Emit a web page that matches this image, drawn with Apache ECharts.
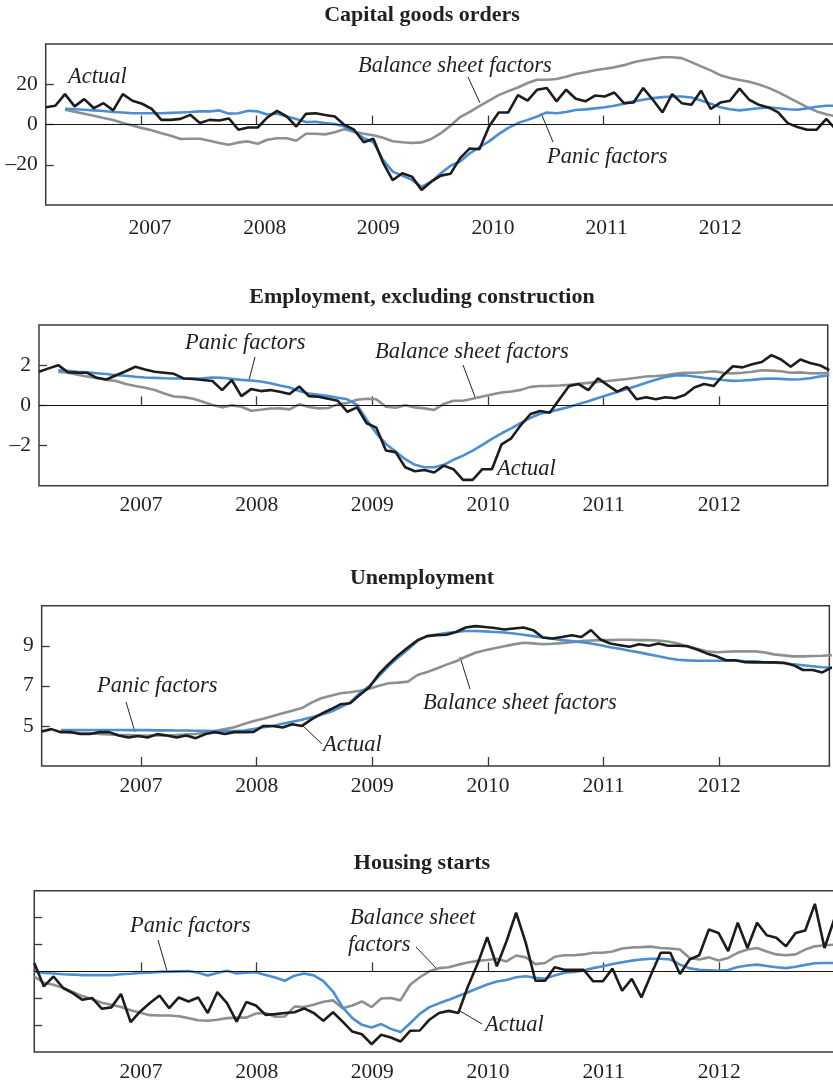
<!DOCTYPE html>
<html>
<head>
<meta charset="utf-8">
<script src="https://cdn.jsdelivr.net/npm/echarts@6.0.0/dist/echarts.min.js"></script>
<style>
  html, body { margin: 0; padding: 0; background: #fff; }
  #chart { width: 833px; height: 1085px; }
</style>
</head>
<body>
<div id="chart"></div>
<script>
// tick labels and titles
const years = [2007, 2008, 2009, 2010, 2011, 2012];
const titles = ["Capital goods orders", "Employment, excluding construction", "Unemployment", "Housing starts"];

// monthly values, first value sits on the left edge of each panel
const capActual = [8.6, 9.3, 15.1, 9, 12.6, 8.1, 10.6, 7, 15.1, 11.8,
  10.3, 7.8, 2.3, 2.3, 2.8, 4.8, 0.7, 2.3, 2, 3,
  -2.6, -1.5, -1.5, 3.5, 6.8, 4, -1, 5.3, 5.6, 4.7,
  4, -0.2, -2.6, -8.8, -7.1, -18.9, -27.7, -24.2, -25.9, -32.5,
  -28.4, -25.4, -24.5, -16.7, -11.9, -12.3, -1, 6, 6, 14.6,
  11.9, 17.3, 18.1, 11.5, 17.3, 12.8, 11.5, 14.4, 13.9, 15.9,
  10.6, 10.9, 18.1, 12.3, 6, 15.1, 10.6, 9.8, 16.8, 7.7,
  10.9, 11.8, 17.8, 12.3, 9.8, 8.5, 6, 0.7, -1.3, -2.6,
  -2.6, 2.8, -2.6];
const capPanic = [null, null, 7.8, 7.6, 7.3, 7.0, 6.7, 6.2, 6.0, 5.6,
  5.6, 5.6, 5.6, 5.8, 6.0, 6.2, 6.5, 6.5, 7.0, 5.4,
  5.6, 6.8, 6.5, 5.0, 5.5, 4.0, 2.7, 1.2, 1.4, 0.7,
  0.2, -1.0, -3.5, -6.8, -8.8, -17.6, -23.4, -25.4, -27.5, -31,
  -28.4, -24.2, -20.5, -18.4, -14.3, -11.3, -8.4, -4.8, -1.7, 0.7,
  2.3, 4.0, 6.0, 5.6, 6.2, 7.2, 7.5, 8.0, 8.6, 9.3,
  10.3, 11.5, 12.3, 13.1, 13.6, 13.9, 13.9, 13.4, 11.9, 10.3,
  8.6, 7.6, 7.0, 7.6, 8.1, 8.5, 8.1, 7.6, 7.3, 8.0,
  8.8, 9.3, 9.3];
const capBalance = [null, null, 7.3, 6.3, 5.3, 4.3, 3.2, 2.2, 0.7, -0.5,
  -1.8, -2.9, -4.3, -5.6, -7.2, -7.1, -7.1, -8.1, -9.2, -10.1,
  -8.9, -8.4, -9.6, -7.6, -6.8, -6.8, -8.1, -4.6, -4.6, -4.9,
  -3.9, -2.3, -3.6, -4.6, -5.3, -6.6, -8.3, -8.8, -9.2, -8.9,
  -7.2, -4.3, -0.6, 3.7, 6.3, 9.1, 11.9, 14.6, 16.6, 18.4,
  20.6, 22.2, 22.2, 22.6, 23.7, 25.1, 26.0, 27.0, 27.7, 28.4,
  29.5, 30.9, 31.9, 32.7, 33.4, 33.4, 33.0, 31.0, 28.9, 26.9,
  24.5, 23.1, 22.1, 21.2, 19.9, 18.2, 16.1, 13.6, 11.1, 8.6,
  6.5, 5.1, 4.0];

const empActual = [1.67, 1.84, 2.0, 1.65, 1.63, 1.62, 1.37, 1.29, 1.5, 1.7,
  1.92, 1.79, 1.67, 1.62, 1.57, 1.34, 1.31, 1.26, 1.21, 0.76,
  1.26, 0.46, 0.81, 0.71, 0.76, 0.68, 0.56, 0.94, 0.46, 0.43,
  0.33, 0.23, -0.32, -0.1, -0.89, -1.11, -2.25, -2.33, -3.08, -3.28,
  -3.22, -3.34, -3.0, -3.18, -3.71, -3.71, -3.18, -3.18, -1.94, -1.64,
  -0.98, -0.43, -0.28, -0.37, 0.3, 0.96, 1.06, 0.76, 1.34, 1.01,
  0.68, 0.92, 0.3, 0.4, 0.3, 0.4, 0.35, 0.51, 0.89, 1.06,
  0.96, 1.5, 1.95, 1.89, 2.05, 2.16, 2.5, 2.28, 1.92, 2.28,
  2.11, 2.0, 1.75];
const empPanic = [null, null, 1.75, 1.72, 1.67, 1.64, 1.6, 1.56, 1.5, 1.47,
  1.42, 1.39, 1.37, 1.35, 1.34, 1.34, 1.34, 1.35, 1.39, 1.37,
  1.32, 1.27, 1.24, 1.19, 1.1, 0.99, 0.89, 0.71, 0.59, 0.53,
  0.46, 0.38, 0.3, 0.02, -0.72, -1.39, -1.92, -2.3, -2.68, -2.96,
  -3.08, -3.08, -2.96, -2.71, -2.5, -2.25, -1.97, -1.67, -1.39, -1.15,
  -0.87, -0.62, -0.42, -0.32, -0.2, -0.08, 0.07, 0.2, 0.37, 0.51,
  0.66, 0.81, 0.96, 1.12, 1.27, 1.41, 1.49, 1.5, 1.44, 1.37,
  1.32, 1.26, 1.22, 1.24, 1.27, 1.32, 1.34, 1.32, 1.29, 1.3,
  1.35, 1.44, 1.5];
const empBalance = [null, null, 1.67, 1.62, 1.52, 1.44, 1.35, 1.27, 1.21, 1.06,
  0.96, 0.88, 0.76, 0.59, 0.44, 0.41, 0.33, 0.18, 0.02, -0.1,
  0, -0.07, -0.27, -0.22, -0.16, -0.15, -0.2, 0.05, -0.08, -0.15,
  -0.13, 0.05, 0.12, 0.28, 0.33, 0.3, -0.07, -0.12, 0, -0.1,
  -0.15, -0.23, 0.07, 0.23, 0.23, 0.33, 0.44, 0.54, 0.64, 0.69,
  0.77, 0.92, 0.96, 0.97, 0.99, 1.02, 1.07, 1.12, 1.17, 1.21,
  1.26, 1.31, 1.37, 1.44, 1.46, 1.5, 1.57, 1.62, 1.62, 1.65,
  1.7, 1.62, 1.59, 1.62, 1.67, 1.75, 1.73, 1.7, 1.62, 1.64,
  1.6, 1.59, 1.62];

const unActual = [4.72, 4.84, 4.69, 4.69, 4.6, 4.6, 4.69, 4.69, 4.52, 4.42,
  4.5, 4.42, 4.59, 4.52, 4.42, 4.52, 4.39, 4.6, 4.69, 4.6,
  4.69, 4.69, 4.7, 5.0, 5.0, 4.92, 5.08, 5.0, 5.33, 5.6,
  5.83, 6.08, 6.13, 6.54, 6.93, 7.59, 8.08, 8.53, 8.91, 9.28,
  9.48, 9.53, 9.55, 9.69, 9.91, 9.98, 9.94, 9.89, 9.81, 9.86,
  9.91, 9.78, 9.41, 9.36, 9.44, 9.53, 9.44, 9.78, 9.31, 9.11,
  9.03, 8.95, 9.08, 9.0, 9.11, 9.0, 9.0, 8.98, 8.81, 8.62,
  8.48, 8.28, 8.28, 8.18, 8.17, 8.17, 8.17, 8.15, 8.03, 7.79,
  7.79, 7.67, 7.92];
const unPanic = [null, null, 4.8, 4.8, 4.8, 4.8, 4.8, 4.8, 4.8, 4.79,
  4.79, 4.79, 4.78, 4.78, 4.77, 4.77, 4.76, 4.76, 4.75, 4.74,
  4.74, 4.77, 4.84, 4.93, 5.0, 5.11, 5.21, 5.31, 5.43, 5.56,
  5.71, 5.93, 6.16, 6.63, 6.99, 7.49, 7.99, 8.42, 8.81, 9.24,
  9.49, 9.56, 9.64, 9.69, 9.74, 9.74, 9.72, 9.69, 9.66, 9.61,
  9.55, 9.48, 9.41, 9.35, 9.28, 9.23, 9.18, 9.11, 9.03, 8.93,
  8.85, 8.75, 8.67, 8.57, 8.48, 8.38, 8.3, 8.27, 8.25, 8.25,
  8.25, 8.25, 8.25, 8.23, 8.22, 8.18, 8.15, 8.13, 8.08, 8.03,
  7.98, 7.93, 7.9];
const unBalance = [null, null, 4.72, 4.69, 4.65, 4.64, 4.6, 4.57, 4.55, 4.54,
  4.52, 4.52, 4.52, 4.52, 4.54, 4.57, 4.6, 4.67, 4.74, 4.84,
  4.93, 5.1, 5.25, 5.36, 5.49, 5.63, 5.76, 5.89, 6.16, 6.38,
  6.51, 6.63, 6.68, 6.76, 6.86, 7.01, 7.13, 7.16, 7.21, 7.54,
  7.69, 7.87, 8.06, 8.23, 8.45, 8.65, 8.78, 8.88, 8.98, 9.07,
  9.15, 9.12, 9.08, 9.1, 9.13, 9.18, 9.23, 9.26, 9.28, 9.28,
  9.3, 9.3, 9.28, 9.28, 9.26, 9.21, 9.11, 8.98, 8.85, 8.73,
  8.68, 8.7, 8.72, 8.73, 8.72, 8.67, 8.57, 8.52, 8.47, 8.47,
  8.49, 8.5, 8.53];

const houActual = [0.31, -0.56, -0.19, -0.62, -0.81, -1.06, -0.99, -1.39, -1.34, -0.84,
  -1.89, -1.49, -1.18, -0.9, -1.37, -0.97, -1.12, -0.97, -1.55, -0.77,
  -1.18, -1.87, -1.14, -1.27, -1.62, -1.59, -1.55, -1.52, -1.38, -1.55,
  -1.84, -1.52, -1.87, -2.24, -2.34, -2.71, -2.36, -2.46, -2.61, -2.21,
  -2.2, -1.8, -1.55, -1.47, -1.55, -0.56, 0.28, 1.27, 0.19, 1.12,
  2.18, 1.06, -0.35, -0.35, 0.15, 0.06, 0.06, 0.06, -0.37, -0.37,
  0.1, -0.72, -0.28, -0.97, -0.12, 0.69, 0.69, -0.1, 0.44, 0.6,
  1.56, 1.43, 0.75, 1.81, 0.87, 1.81, 1.34, 1.25, 0.93, 1.43,
  1.52, 2.51, 0.87, 1.93];
const houPanic = [0, -0.06, -0.08, -0.11, -0.12, -0.14, -0.14, -0.14, -0.14, -0.11,
  -0.09, -0.06, -0.05, -0.02, -0.01, 0, 0.01, -0.05, -0.15, -0.06,
  0.02, -0.08, -0.05, -0.03, -0.14, -0.23, -0.35, -0.16, -0.08, -0.15,
  -0.36, -0.75, -1.34, -1.74, -1.99, -2.09, -1.96, -2.14, -2.26, -1.93,
  -1.58, -1.33, -1.19, -1.06, -0.92, -0.78, -0.63, -0.49, -0.38, -0.32,
  -0.22, -0.18, -0.24, -0.28, -0.15, -0.05, -0.02, 0.03, 0.12, 0.19,
  0.27, 0.34, 0.4, 0.44, 0.47, 0.47, 0.44, 0.25, 0.11, 0.06,
  0.04, 0.02, 0.05, 0.16, 0.22, 0.25, 0.2, 0.15, 0.12, 0.17,
  0.24, 0.3, 0.31, 0.31];
const houBalance = [-0.19, -0.43, -0.5, -0.62, -0.77, -0.92, -1.04, -1.17, -1.24, -1.33,
  -1.45, -1.54, -1.63, -1.64, -1.64, -1.67, -1.74, -1.82, -1.84, -1.8,
  -1.74, -1.72, -1.72, -1.57, -1.55, -1.69, -1.68, -1.31, -1.33, -1.24,
  -1.13, -1.08, -1.37, -1.27, -1.12, -1.33, -1.01, -0.99, -1.08, -0.5,
  -0.22, 0, 0.12, 0.15, 0.25, 0.33, 0.39, 0.42, 0.47, 0.37,
  0.59, 0.52, 0.27, 0.31, 0.54, 0.6, 0.6, 0.63, 0.69, 0.69,
  0.74, 0.85, 0.89, 0.9, 0.92, 0.87, 0.85, 0.81, 0.5, 0.44,
  0.52, 0.4, 0.5, 0.69, 0.81, 0.87, 0.74, 0.63, 0.6, 0.63,
  0.81, 0.93, 0.97, 0.99];

// layout
const FONT = '"Liberation Serif", "Times New Roman", serif';
const TEXT = "#231f20";
const PX_PER_YEAR = 115.65;
const X_2007 = 141;
const WIDTH = 833;
const xPx = (yr) => X_2007 + (yr - 2007) * PX_PER_YEAR;

// the top panel prints its year labels a little right of the ticks (px)
const labelShiftTop = [9, 8, 6, 5, 3, 1];

const panels = [
  { title: titles[0], titleY: 15, top: 44, height: 161, xMin: 2006.176, xMax: 2013.1,
    yMin: -40, yMax: 40, yTicks: [-20, 0, 20], yLabels: true, zero: true, xMargin: 12,
    labelShift: labelShiftTop,
    actual: capActual, panic: capPanic, balance: capBalance },
  { title: titles[1], titleY: 297, top: 325, height: 160.7, xMin: 2006.118, xMax: 2012.938,
    yMin: -4, yMax: 4, yTicks: [-2, 0, 2], yLabels: true, zero: true, xMargin: 9,
    actual: empActual, panic: empPanic, balance: empBalance },
  { title: titles[2], titleY: 578, top: 605.7, height: 160.3, xMin: 2006.141, xMax: 2012.952,
    yMin: 3, yMax: 11, yTicks: [5, 7, 9], yLabels: true, zero: false, xMargin: 9,
    actual: unActual, panic: unPanic, balance: unBalance },
  { title: titles[3], titleY: 863, top: 890.7, height: 161.3, xMin: 2006.077, xMax: 2013.1,
    yMin: -3, yMax: 3, yTicks: [-2, -1, 1, 2], yLabels: false, zero: true, xMargin: 9,
    actual: houActual, panic: houPanic, balance: houBalance },
];

// annotation texts (left x, middle y) and leader lines
const notes = [
  ["Actual", 68, 77], ["Balance sheet factors", 358, 66], ["Panic factors", 547, 157],
  ["Panic factors", 185, 343], ["Balance sheet factors", 375, 352], ["Actual", 497, 469],
  ["Panic factors", 97, 686], ["Actual", 323, 745], ["Balance sheet factors", 423, 703],
  ["Panic factors", 130, 926], ["Balance sheet", 350, 918], ["factors", 348, 945], ["Actual", 485, 1025],
];
const leaders = [
  [468, 77, 480, 103], [541, 113, 553, 142],
  [255, 357, 249, 380], [463, 365, 475, 397],
  [126, 702, 135, 732], [322, 744, 302, 725], [470, 689, 460, 657],
  [158, 940, 167, 971], [416, 947, 438, 970], [482, 1024, 460, 1011],
];

const toPoints = (arr, start) =>
  arr.map((v, i) => (v == null ? null : [start + i / 12, v])).filter(Boolean);

const grid = [], xAxis = [], yAxis = [], series = [];
panels.forEach((p, k) => {
  const labelAt = p.labelShift
    ? years.map((y, i) => y + p.labelShift[i] / PX_PER_YEAR)
    : years;
  grid.push({
    left: xPx(p.xMin), right: WIDTH - xPx(p.xMax), top: p.top, height: p.height,
    outerBoundsMode: "none", containLabel: false,
    show: true, borderColor: "#3a3a3a", borderWidth: 1.5, backgroundColor: "transparent",
  });
  xAxis.push({
    type: "value", gridIndex: k, min: p.xMin, max: p.xMax,
    axisLine: { show: false }, splitLine: { show: false },
    axisTick: { show: true, inside: true, length: 9, customValues: years,
      lineStyle: { color: "#3a3a3a", width: 1.3 } },
    axisLabel: { customValues: labelAt, margin: p.xMargin, color: TEXT,
      fontFamily: FONT, fontSize: 21.5, formatter: (v) => String(Math.round(v)) },
  });
  yAxis.push({
    type: "value", gridIndex: k, min: p.yMin, max: p.yMax,
    axisLine: { show: false }, splitLine: { show: false },
    axisTick: { show: true, inside: true, length: 8, customValues: p.yTicks,
      lineStyle: { color: "#3a3a3a", width: 1.3 } },
    axisLabel: { show: p.yLabels, customValues: p.yTicks, margin: 8, color: TEXT,
      fontFamily: FONT, fontSize: 21.5, formatter: (v) => String(v).replace("-", "\u2013") },
  });
  const base = { type: "line", xAxisIndex: k, yAxisIndex: k, symbol: "none", silent: true };
  series.push({
    ...base, name: "Balance sheet factors", z: 2,
    data: toPoints(p.balance, p.xMin),
    lineStyle: { color: "#8b9090", width: 2.6 },
    markLine: p.zero ? {
      silent: true, symbol: "none", label: { show: false },
      lineStyle: { color: "#111", width: 1, type: "solid" },
      data: [{ yAxis: 0 }],
    } : undefined,
  });
  series.push({
    ...base, name: "Panic factors", z: 3,
    data: toPoints(p.panic, p.xMin),
    lineStyle: { color: "#4b8ed1", width: 2.6 },
  });
  series.push({
    ...base, name: "Actual", z: 4,
    data: toPoints(p.actual, p.xMin),
    lineStyle: { color: "#1c1c1c", width: 2.6 },
  });
});

const graphic = [];
panels.forEach((p) => {
  graphic.push({
    type: "text", x: 422, y: p.titleY,
    style: { text: p.title, font: 'bold 22px ' + FONT, fill: TEXT,
      textAlign: "center", textVerticalAlign: "middle", align: "center", verticalAlign: "middle" },
  });
});
notes.forEach(([t, x, y]) => {
  graphic.push({
    type: "text", x: x, y: y,
    style: { text: t, font: 'italic 22.5px ' + FONT, fill: TEXT,
      textAlign: "left", textVerticalAlign: "middle", align: "left", verticalAlign: "middle" },
  });
});
leaders.forEach(([x1, y1, x2, y2]) => {
  graphic.push({
    type: "line", shape: { x1, y1, x2, y2 },
    style: { stroke: "#222", lineWidth: 1 },
  });
});

const chart = echarts.init(document.getElementById("chart"), null, { renderer: "canvas" });
chart.setOption({
  backgroundColor: "#fff",
  animation: false,
  grid, xAxis, yAxis, series, graphic,
});
</script>
</body>
</html>
